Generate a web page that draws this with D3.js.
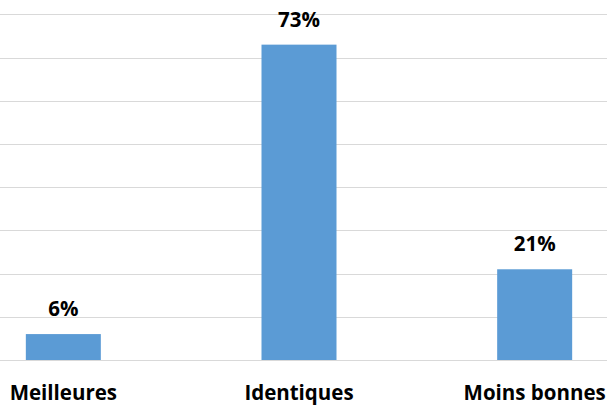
<!DOCTYPE html>
<html><head><meta charset="utf-8">
<script src="https://cdn.jsdelivr.net/npm/d3@7"></script>
<style>html,body{margin:0;padding:0;background:#fff;overflow:hidden}</style>
</head><body>
<svg id="chart" width="607" height="407"></svg>
<script>
const categories = ["Meilleures", "Identiques", "Moins bonnes"];
const values = [6, 73, 21];
const valueLabels = ["6%", "73%", "21%"];
const gridTicks = [0, 10, 20, 30, 40, 50, 60, 70, 80];

const svg = d3.select("#chart");
const font = "'Open Sans', sans-serif";

const x = d3.scaleBand().domain(categories).range([-54.5, 652.5]).paddingInner(0.68).paddingOuter(0.34);
const y = d3.scaleLinear().domain([0, 80]).range([360, 14.4]);

svg.append("g").selectAll("line").data(gridTicks).join("line")
  .attr("x1", 0).attr("x2", 607)
  .attr("y1", d => Math.round(y(d)) + 0.5).attr("y2", d => Math.round(y(d)) + 0.5)
  .attr("stroke", "#D9D9D9").attr("stroke-width", 1);

const bw = 75;
svg.append("g").selectAll("rect").data(values).join("rect")
  .attr("x", (d, i) => x(categories[i]) + x.bandwidth() / 2 - bw / 2)
  .attr("width", bw)
  .attr("y", d => y(d))
  .attr("height", d => y(0) - y(d))
  .attr("fill", "#5B9BD5");

svg.append("g").selectAll("text").data(values).join("text")
  .attr("x", (d, i) => x(categories[i]) + x.bandwidth() / 2)
  .attr("y", d => y(d) - 18)
  .attr("text-anchor", "middle")
  .attr("font-family", font).attr("font-weight", "bold").attr("font-size", 20.5)
  .attr("fill", "#000")
  .text((d, i) => valueLabels[i]);

svg.append("g").selectAll("text").data(categories).join("text")
  .attr("x", d => x(d) + x.bandwidth() / 2)
  .attr("y", 400)
  .attr("text-anchor", "middle")
  .attr("font-family", font).attr("font-weight", "bold").attr("font-size", 20.5)
  .attr("fill", "#000")
  .text(d => d);
</script>
</body></html>
